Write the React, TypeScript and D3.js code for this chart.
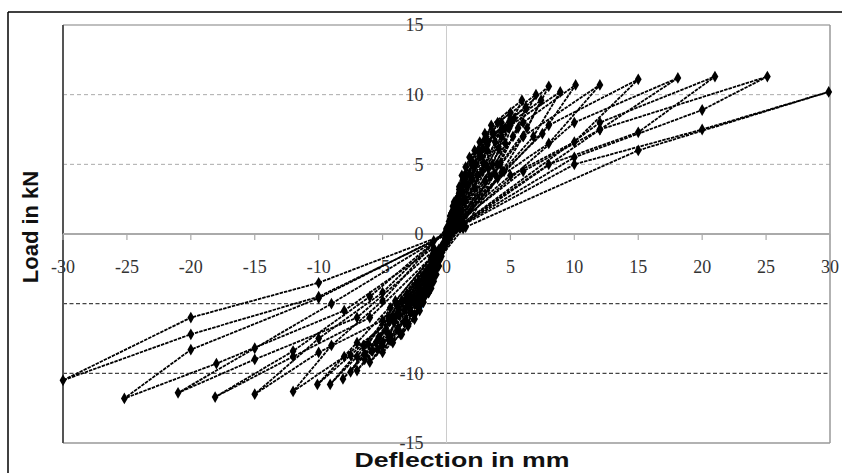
import * as d3 from 'd3';

// hysteresis cycles, [deflection mm, load kN]
const cycle05 = [[0.1, 0.5], [0.3, 1.3], [0.5, 2], [0.4, 1.5], [0.3, 0.9], [0.1, 0.2], [-0.2, -0.8], [-0.35, -1.3], [-0.5, -1.8], [-0.45, -1.4], [-0.3, -0.8], [-0.1, -0.3]];
const cycle10 = [[0.2, 0.9], [0.6, 2.3], [1, 3.2], [0.8, 2.5], [0.5, 1.5], [0.1, 0.3], [-0.4, -1.6], [-0.7, -2.4], [-1, -3], [-0.9, -2.5], [-0.6, -1.6], [-0.2, -0.6]];
const cycle15 = [[0.3, 1.1], [1, 3.4], [1.5, 4.2], [1.3, 3.5], [0.9, 2.3], [0.2, 0.4], [-0.6, -2.3], [-1.1, -3.4], [-1.5, -4], [-1.4, -3.5], [-1, -2.4], [-0.3, -1]];
const cycle20 = [[0.3, 1.3], [1.2, 4.2], [2, 5.2], [1.8, 4.3], [1.2, 3], [0.3, 0.5], [-0.8, -2.9], [-1.4, -4.2], [-2, -5], [-1.8, -4.3], [-1.2, -3], [-0.4, -1.2]];
const cycle20b = [[0.4, 1.1], [1.3, 3.8], [2.2, 4.9], [2, 3.9], [1.4, 2.4], [0.3, 0.2], [-0.9, -2.5], [-1.6, -3.9], [-2.3, -4.8], [-2.1, -4], [-1.5, -2.6], [-0.4, -0.9]];
const cycle25 = [[0.4, 1.5], [1.5, 4.8], [2.5, 6], [2.3, 5], [1.6, 3.5], [0.4, 0.6], [-1, -3.4], [-1.8, -4.9], [-2.5, -5.8], [-2.3, -5], [-1.7, -3.6], [-0.5, -1.4]];
const cycle30 = [[0.5, 1.6], [1.8, 5.5], [3, 6.8], [2.7, 5.6], [2, 4], [0.5, 0.7], [-1.2, -3.9], [-2.1, -5.5], [-3, -6.5], [-2.8, -5.6], [-2.1, -4.2], [-0.6, -1.6]];
const cycle30b = [[0.6, 1.3], [2, 5], [3.2, 6.4], [2.9, 5.1], [2.2, 3.3], [0.5, 0.3], [-1.3, -3.4], [-2.3, -5.1], [-3.3, -6.3], [-3, -5.2], [-2.3, -3.6], [-0.6, -1.1]];
const cycle35 = [[0.5, 1.7], [2.2, 6], [3.6, 7.3], [3.2, 6], [2.4, 4.2], [0.6, 0.8], [-1.4, -4.2], [-2.5, -6.1], [-3.5, -7.2], [-3.2, -6.2], [-2.5, -4.6], [-0.7, -1.8]];
const cycle43 = [[0.6, 1.8], [2.6, 6.6], [4.3, 8], [3.8, 6.6], [2.8, 4.5], [0.7, 0.8], [-1.7, -4.5], [-3, -6.6], [-4.2, -7.8], [-3.8, -6.8], [-3, -5], [-0.8, -2]];
const cycle43b = [[0.7, 1.4], [2.8, 6.1], [4.6, 7.6], [4.1, 6.1], [3, 3.8], [0.7, 0.4], [-1.9, -4.1], [-3.2, -6.2], [-4.5, -7.6], [-4.1, -6.3], [-3.1, -4.3], [-0.8, -1.4]];
const cycle50 = [[0.7, 1.8], [3, 7.2], [5, 8.7], [4.3, 7], [3.2, 4.8], [0.9, 0.9], [-2, -4.8], [-3.6, -7.2], [-5, -8.5], [-4.4, -7.5], [-3.3, -5.5], [-1, -2.2]];
const cycle50b = [[0.8, 1.5], [3.2, 6.7], [5.3, 8.3], [4.6, 6.5], [3.4, 4.1], [0.9, 0.5], [-2.2, -4.4], [-3.8, -6.8], [-5.4, -8.3], [-4.7, -7], [-3.5, -4.8], [-0.9, -1.6]];
const cycle60 = [[0.8, 1.8], [3.5, 7.8], [5.9, 9.6], [4.9, 7.6], [3.6, 5], [1, 0.9], [-2.5, -5], [-4.3, -7.6], [-6, -9.2], [-5, -8], [-3.7, -5.8], [-1.1, -2.2]];
const cycle60b = [[0.9, 1.5], [3.7, 7.2], [6.2, 9.1], [5.2, 7], [3.8, 4.3], [1.1, 0.5], [-2.7, -4.6], [-4.5, -7.2], [-6.4, -9], [-5.3, -7.5], [-3.9, -5.1], [-1.1, -1.6]];
const cycle70 = [[0.8, 1.7], [4, 8], [7, 10], [5.6, 7.6], [4, 5], [1.2, 0.8], [-2.8, -5], [-5, -7.8], [-7, -9.8], [-5.8, -8.4], [-4.2, -6], [-1.2, -2.3]];
const cycle70b = [[1, 1.4], [4.3, 7.5], [7.4, 9.6], [6, 7], [4.3, 4.4], [1.3, 0.4], [-3, -4.6], [-5.3, -7.4], [-7.5, -9.9], [-6.1, -7.9], [-4.4, -5.3], [-1.2, -1.7]];
const cycle80 = [[1, 1.6], [5, 8.2], [8, 10.6], [6.3, 7.6], [4.2, 5], [1, 0.7], [-3, -4.8], [-5.5, -7.8], [-8.1, -10.4], [-6.4, -8.6], [-4.4, -6.2], [-1.2, -2.3]];
const cycle90 = [[1, 1.5], [5, 7.8], [8.9, 10.2], [6.8, 7], [4.4, 4.5], [1, 0.6], [-3.5, -4.8], [-6.5, -8], [-9.1, -10.8], [-7, -8.8], [-4.5, -6], [-1.2, -2.2]];
const cycle100 = [[1, 1.4], [6, 8], [10.1, 10.7], [7.5, 7.2], [4.5, 4.5], [0.8, 0.5], [-4, -4.8], [-7, -7.8], [-10.1, -10.8], [-7.5, -8.7], [-4.5, -6.2], [-1, -2]];
const cycle120 = [[1, 1.2], [6, 7], [12, 10.7], [8, 6.5], [4, 4], [0, 0.4], [-5, -4.8], [-9, -8], [-12, -11.3], [-8, -8.8], [-4, -6], [-1, -2]];
const cycle150 = [[1, 1], [8, 7.8], [15, 11.1], [10, 6.6], [5, 4.2], [0, 0.3], [-5, -4.2], [-10, -7.5], [-15, -11.5], [-10, -8.5], [-5, -6.2], [-1, -1.8]];
const cycle180 = [[1, 0.8], [10, 8], [18.1, 11.2], [12, 7.5], [6, 4.5], [0, 0.2], [-6, -4.5], [-12, -8.4], [-18.1, -11.7], [-12, -8.8], [-6, -6], [-1, -1.5]];
const cycle210 = [[1, 0.6], [12, 8], [21, 11.3], [15, 7.3], [8, 5], [0, 0], [-9, -5], [-15, -8.2], [-21, -11.4], [-15, -9], [-7, -6], [-1, -1.2]];
const cycle250 = [[1, 0.5], [12, 7.5], [25.1, 11.3], [20, 8.9], [10, 5.5], [0, 0], [-10, -4.6], [-20, -8.3], [-25.2, -11.8], [-18, -9.3], [-8, -5.5], [-1, -1]];
const cycle300 = [[1.5, 0.5], [15, 6], [29.9, 10.2], [20, 7.5], [10, 5], [0, 0], [-10, -3.5], [-20, -6], [-30, -10.5], [-20, -7.2], [-10, -4.5], [-1, -0.5]];

const cycles = [cycle05, cycle10, cycle15, cycle20, cycle20b, cycle25, cycle30, cycle30b, cycle35, cycle43, cycle43b,
  cycle50, cycle50b, cycle60, cycle60b, cycle70, cycle70b, cycle80, cycle90, cycle100, cycle120, cycle150,
  cycle180, cycle210, cycle250, cycle300];

const xTicks = [-30, -25, -20, -15, -10, -5, 0, 5, 10, 15, 20, 25, 30];
const yTicks = [15, 10, 5, 0, -5, -10, -15];
const lightGrid = [10, 5];
const darkGrid = [-5, -10];

export default function App() {
  const width = 842;
  const height = 473;
  const x = d3.scaleLinear().domain([-30, 30]).range([63, 830]);
  const y = d3.scaleLinear().domain([-15, 15]).range([443, 25]);

  const line = d3.line<number[]>()
    .x((d) => x(d[0]))
    .y((d) => y(d[1]));
  const diamond = d3.symbol().type(d3.symbolDiamond).size(40)();

  return (
    <div style={{ position: 'fixed', left: 0, top: 0 }}>
      <svg width={width} height={height} style={{ display: 'block', background: '#fff' }}>
        {/* outer frame */}
        <line x1={8} x2={width} y1={12} y2={12} stroke="#000" strokeWidth={1.5} />
        <line x1={8} x2={8} y1={12} y2={height} stroke="#000" strokeWidth={1.5} />

        {/* gridlines */}
        {lightGrid.map((v) => (
          <line key={'lg' + v} x1={x(-30)} x2={x(30)} y1={y(v)} y2={y(v)}
            stroke="#aaa" strokeWidth={1} strokeDasharray="4,3" />
        ))}
        {darkGrid.map((v) => (
          <line key={'dg' + v} x1={x(-30)} x2={x(30)} y1={y(v)} y2={y(v)}
            stroke="#444" strokeWidth={1.4} strokeDasharray="4,2.5" />
        ))}
        <line x1={x(-30)} x2={x(30)} y1={y(15)} y2={y(15)} stroke="#aaa" strokeWidth={1.5} />
        <line x1={x(-30)} x2={x(30)} y1={y(-15)} y2={y(-15)} stroke="#999" strokeWidth={1.5} />
        <line x1={x(30)} x2={x(30)} y1={y(15)} y2={y(-15)} stroke="#999" strokeWidth={1.5} />
        <line x1={x(0)} x2={x(0)} y1={y(15)} y2={y(-15)} stroke="#ccc" strokeWidth={1} />
        <line x1={x(-30)} x2={x(-30)} y1={y(15)} y2={y(-15)} stroke="#555" strokeWidth={2} />

        {/* x axis at zero */}
        <line x1={x(-30)} x2={x(30)} y1={y(0)} y2={y(0)} stroke="#aaa" strokeWidth={2} />
        {xTicks.map((t) => (
          <g key={'xt' + t}>
            <line x1={x(t)} x2={x(t)} y1={y(0)} y2={y(0) + 6} stroke="#aaa" strokeWidth={1.2} />
            <text x={x(t)} y={y(0) + 39} textAnchor="middle" fontFamily="Liberation Serif"
              fontSize={18} fill="#333">{t}</text>
          </g>
        ))}
        {yTicks.map((t) => (
          <text key={'yt' + t} x={x(0) - 23} y={y(t)} dy="0.35em" textAnchor="end"
            fontFamily="Liberation Serif" fontSize={18} fill="#333">{t}</text>
        ))}

        {/* data */}
        {cycles.map((c, i) => (
          <g key={'c' + i}>
            <path d={line(c) ?? ''} fill="none" stroke="#000" strokeWidth={1.8} strokeDasharray="3.5,1" />
            {c.map((p, j) => (
              <path key={j} d={diamond ?? ''} transform={`translate(${x(p[0])},${y(p[1])})`} fill="#000" />
            ))}
          </g>
        ))}

        {/* axis titles */}
        <text transform={`translate(38,227) rotate(-90)`} textAnchor="middle"
          fontFamily="Liberation Sans" fontWeight="bold" fontSize={22} fill="#111">Load in kN</text>
        <text x={462} y={467} textAnchor="middle" fontFamily="Liberation Sans" fontWeight="bold"
          fontSize={20} fill="#111" textLength={215} lengthAdjust="spacingAndGlyphs">Deflection in mm</text>
      </svg>
    </div>
  );
}
